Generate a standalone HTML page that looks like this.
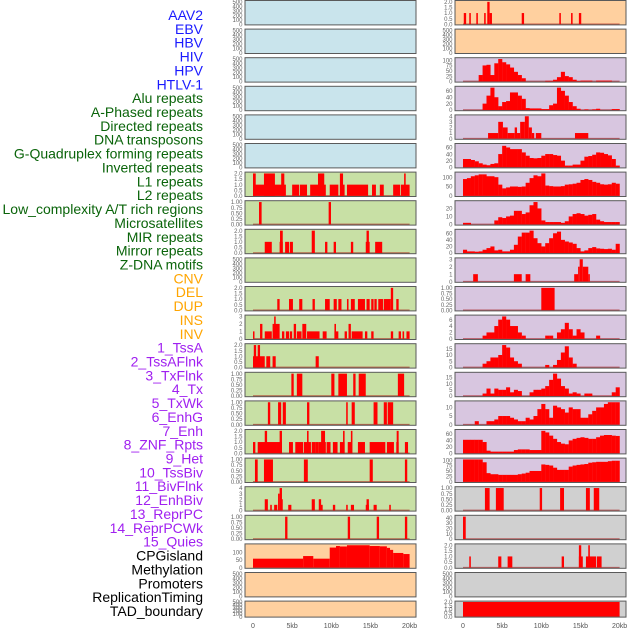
<!DOCTYPE html>
<html><head><meta charset="utf-8">
<style>
body{margin:0;background:#fff;width:630px;height:630px;overflow:hidden;font-family:"Liberation Sans",sans-serif;}
svg text{font-family:"Liberation Sans",sans-serif;}
</style></head>
<body>
<svg id="chart" width="630" height="630" viewBox="0 0 630 630" xmlns="http://www.w3.org/2000/svg"></svg>
<script>
const trackLabels=["AAV2","EBV","HBV","HIV","HPV","HTLV-1","Alu repeats","A-Phased repeats","Directed repeats","DNA transposons","G-Quadruplex forming repeats","Inverted repeats","L1 repeats","L2 repeats","Low_complexity A/T rich regions","Microsatellites","MIR repeats","Mirror repeats","Z-DNA motifs","CNV","DEL","DUP","INS","INV","1_TssA","2_TssAFlnk","3_TxFlnk","4_Tx","5_TxWk","6_EnhG","7_Enh","8_ZNF_Rpts","9_Het","10_TssBiv","11_BivFlnk","12_EnhBiv","13_ReprPC","14_ReprPCWk","15_Quies","CPGisland","Methylation","Promoters","ReplicationTiming","TAD_boundary"];
const labelGroups=[6,13,5,15,5];
const groupColors=["#1a1aff","#0a640a","#ffa500","#a020f0","#000000"];
const panelBg=["b","b","b","b","b","b","g","g","g","g","g","g","g","g","g","g","g","g","g","o","o","o",
"o","o","p","p","p","p","p","p","p","p","p","p","p","p","p","p","p","r","r","r","r","r"];
const bgColors={b:"#c9e4ec",g:"#c8e0a5",o:"#ffd09f",p:"#d8c6e0",r:"#d0d0d0"};
const E=[0,100,200,300,400,500], B2=["0.0","0.5","1.0","1.5","2.0"], B1=["0.00","0.25","0.50","0.75","1.00"];
const panelTicks=[E,E,E,E,E,E,B2,B1,B2,E,B2,[0,1,2,3],B2,B1,B1,B2,B1,[0,1,2,3,4],B1,[0,50,100],E,E,
B2,E,[0,25,50,75,100],[0,20,40,60],[0,1,2,3,4],[0,20,40,60],[0,50,100],[0,10,20],[0,20,40,60],[0,1,2,3],B1,[0,2,4,6],[0,5,10,15],[0,5,10,15],[0,5,10],[0,20,40,60],[0,25,50,75,100],B1,[0,10,20,30,40],B2,E,B2];
const panelMax=[500,500,500,500,500,500,2,1,2,500,2,3,2,1,1,2,1,4,1,145,500,500,
2,500,105,70,4,68,120,28,68,3,1,7,18,18,13,70,103,1,42,2,500,2];
const panelSegs=[[],[],[],[],[],[],
[[0,4.2,1],[0,0.35,2],[1.4,2.8,2],[3.6,4.0,2],[5.0,5.9,1],[6.0,6.9,1],[7.3,9.3,1],[8.3,9.1,2],[9.8,10.9,1],[11.1,11.7,1],[11.1,11.5,2],[12.0,14.7,1],[15.2,15.7,1],[16.2,16.7,1],[17.9,18.8,1],[18.9,20,1],[19.3,19.5,2]],
[[0.77,1.1,1],[9.66,9.96,1]],
[[1.5,2.4,1],[3.4,3.8,1],[3.45,3.8,2],[4.1,4.6,1],[4.7,5.1,1],[7.5,7.9,2],[9.2,9.5,1],[10.3,10.6,1],[12.5,12.8,1],[14.4,14.9,1],[14.5,14.8,2],[15.6,16.5,1]],
[],
[[3.1,3.4,1],[4.6,5.1,1],[5.9,6.3,1],[7.6,7.9,1],[9.2,9.8,1],[10.3,10.7,1],[10.9,11.3,1],[12.0,12.2,1],[12.5,13.0,1],[13.4,14.3,1],[14.5,14.9,1],[15.1,15.4,1],[15.5,15.8,1],[16.0,16.6,1],[16.7,17.6,1],[17.6,17.9,2],[18.3,18.6,1]],
[[0,0.1,1],[0.9,1.2,2],[1.5,2.4,1],[2.5,3.4,2],[2.7,2.9,3],[3.7,4.0,1],[4.2,4.6,1],[4.7,5.0,1],[5.2,5.5,2],[5.6,6.2,1],[6.3,6.8,2],[6.9,8.5,1],[8.9,9.4,1],[10.4,10.9,1],[10.4,10.6,2],[11.7,12.0,1],[12.2,12.5,2],[12.6,14.0,1],[14.3,14.6,1],[15.1,15.4,1],[17.6,17.9,1],[18.6,18.9,1],[19.1,19.3,1],[19.6,20,1]],
[[0,1.5,1],[0.1,0.4,2],[0.6,0.9,2],[1.7,2.2,1],[2.5,2.9,1],[8.0,8.4,1]],
[[4.9,5.2,1],[5.6,6.3,1],[10.0,10.4,1],[10.9,12.0,1],[12.8,13.1,1],[13.5,14.4,1],[18.5,19.3,1]],
[[1.9,2.2,1],[3.2,3.6,1],[3.8,4.2,1],[6.9,7.2,1],[11.9,12.1,1],[12.6,13.0,1],[15.4,15.9,1],[16.7,17.1,1],[17.2,17.9,1]],
[[0,0.3,1],[0.6,3.0,1],[1.5,1.8,2],[3.0,3.7,1],[3.4,3.7,2],[4.6,5.1,1],[5.4,6.4,1],[6.5,7.4,1],[6.9,7.1,2],[7.5,8.0,1],[8.0,8.4,1],[8.4,9.3,1],[8.7,9.2,2],[9.4,9.9,1],[10.2,10.8,1],[11.1,11.7,1],[11.5,11.7,2],[12.1,12.6,1],[12.5,12.7,2],[13.4,14.3,1],[14.9,16.9,1],[17.1,18.0,1],[18.3,18.6,1],[18.35,18.6,2],[19.4,19.8,1]],
[[0.25,0.6,1],[1.4,2.55,1],[6.5,7.0,1],[14.9,15.3,1],[19.4,19.7,1]],
[[1.5,1.9,2],[2.2,2.4,1],[2.7,3.1,1],[3.2,3.4,3],[3.4,3.7,4],[3.6,3.8,2],[4.5,4.9,1],[7.5,7.9,2],[8.4,8.7,2],[8.6,8.9,1],[10.2,10.5,1],[11.9,12.1,1],[12.5,12.9,1],[14.4,14.8,1],[14.5,14.8,2],[15.4,15.8,1],[17.4,17.6,1]],
[[4.1,4.4,1],[12.1,12.4,1],[15.8,16.1,1],[19.4,19.7,1]],
[[0,6.4,58],[6.4,7.7,75],[7.7,9.8,58],[9.8,10.6,130],[10.6,11.1,140],[11.1,12.0,137],[12.0,14.9,145],[14.9,16.2,140],[16.2,17.1,138],[17.1,17.5,128],[17.5,17.9,115],[17.9,19.2,95],[19.2,20,88]],
[],[],
[[0.1,0.4,1],[0.8,1.0,1],[1.7,1.9,1],[2.7,2.9,1],[3.1,3.4,2],[3.4,3.7,1],[7.5,7.8,1],[12.3,12.5,1],[13.8,14.0,1],[14.8,15.1,1]],
[],[],[],
[[3.2,4.5,1],[4.5,5.1,3],[5.1,5.7,2],[5.7,6.6,1],[6.6,6.9,2],[6.9,7.3,1],[7.3,7.9,3],[7.9,8.4,4],[8.4,8.8,2],[8.8,9.1,1],[9.3,10.0,1],[14.3,16.0,1]],
[],[],[],[],
[[1.3,1.9,1],[6.5,7.5,1],[8.0,8.6,1],[14.2,14.7,1],[14.7,14.9,2],[14.9,15.3,3],[15.3,16.0,2],[16.0,16.2,1]],
[[10.0,11.7,1]],
[],[],[],[],[],[],
[[2.8,3.4,1],[4.2,5.2,1],[9.8,10.1,1],[12.4,12.9,1],[15.7,16.2,1],[16.7,17.4,1]],
[[0,0.35,42]],
[[0.8,1.0,1],[4.5,4.9,1],[5.7,6.3,1],[12.6,12.9,1],[14.8,15.3,1],[14.8,15.1,2],[15.7,17.0,1],[16.0,16.2,2],[17.1,17.7,1]],
[],
[[0,20,2]]];
const binWidthKb=0.5;
const panelBins={
24:[0,0,0,0,30,75,78,30,85,105,90,80,65,45,30,15,0,0,0,0,0,3,3,8,20,45,25,20,8,2,4,4,4,0,4,4,4,4,0,0],
25:[0,0,0,0,0,20,45,70,40,12,25,28,55,55,45,35,6,5,5,5,3,3,15,20,70,60,45,25,12,4,0,2,0,2,4,0,0,0,3,3],
27:[25,25,22,18,12,8,6,10,12,40,65,60,55,55,55,45,35,28,27,28,35,40,40,37,35,20,5,5,8,8,20,32,34,38,45,44,40,36,25,5],
28:[90,95,105,110,115,115,105,105,100,60,40,45,50,50,48,50,70,95,110,105,120,55,52,50,50,52,60,62,65,70,85,90,85,75,70,62,60,62,70,65],
29:[2,2,0,0,0,0,0,0,5,9,8,10,11,17,17,13,15,24,28,20,5,3,3,3,3,2,4,10,13,14,13,11,12,13,6,4,3,3,3,3],
30:[10,5,5,4,5,10,15,20,8,10,5,5,10,25,50,62,62,68,45,30,20,30,45,60,65,40,35,32,28,15,5,8,15,18,14,13,12,13,10,28],
33:[0,0,0,0,0,1,2,2,4,6,7,6,4,4,2,1,0,0,0,0,0,1,1,0,2,3,5,3,1,3,2,0,0,0,1,0,0,0,0,0],
34:[0,0,0,0,0,3,5,8,8,10,18,16,8,5,3,0,0,0,0,0,0,2,0,2,6,12,17,8,3,0,0,0,0,0,0,0,0,0,0,0],
35:[0,0,0,0,0,2,6,2,6,5,5,7,3,5,4,0,0,3,5,5,6,8,13,18,14,8,6,2,3,2,0,2,2,0,0,0,0,0,3,7],
36:[0,0,0,2,0,0,2,2,3,5,5,5,4,3,2,2,4,3,5,9,12,9,4,11,10,9,7,10,9,9,4,4,6,8,10,10,12,13,13,13],
37:[42,42,42,42,42,35,8,5,5,5,5,5,5,10,12,12,12,10,10,10,70,65,55,45,35,30,28,40,45,48,50,48,45,45,50,55,57,57,55,54],
38:[103,103,103,103,103,90,40,35,35,32,32,32,32,32,35,38,42,50,50,50,80,78,75,65,55,55,55,70,75,78,80,82,88,90,92,92,92,95,97,97]
};
const xTickKb=[0,5,10,15,20];
const xTickLabels=["0","5kb","10kb","15kb","20kb"];

const NS="http://www.w3.org/2000/svg";
const svg=document.getElementById("chart");
function mk(tag,attrs,parent){const e=document.createElementNS(NS,tag);for(const k in attrs)e.setAttribute(k,attrs[k]);(parent||svg).appendChild(e);return e;}
const PITCH=28.6, PH=24.4, PW=171, KBPX=7.83;
function panelGeom(i){const col=i<22?0:1,row=i%22;const x=col?455:245;const y=row*PITCH+0.5;const h=row==21?16:PH;return {x,y,h,x0:x+8};}
function xScale(g,kb){return g.x0+kb*KBPX;}
function yScale(g,v,M){const lo=-0.03*M,hi=1.06*M;return g.y+g.h-(v-lo)/(hi-lo)*g.h;}

let li=0;
labelGroups.forEach((n,gi)=>{for(let k=0;k<n;k++){const t=mk("text",{x:203,y:15+li*13.86+5,"text-anchor":"end","font-size":"14",fill:groupColors[gi]});


t.textContent=trackLabels[li];li++;}});

for(let i=0;i<44;i++){
  const g=panelGeom(i), M=panelMax[i];
  const empty=panelSegs[i].length==0 && !panelBins[i];
  const grp=mk("g",{});
  
  
  mk("rect",{x:g.x,y:g.y,width:PW,height:g.h,fill:bgColors[panelBg[i]]},grp);
  const by=yScale(g,0,M);
  if(!empty){
    const bl=mk("line",{x1:xScale(g,0),x2:xScale(g,20),y1:by,y2:by,stroke:"rgba(160,0,0,0.55)","stroke-width":1.5},grp);
    
    
  }
  const drawBar=(s,e,v)=>{const x1=xScale(g,s),x2=xScale(g,e),yt=yScale(g,v,M);
    const r=mk("rect",{x:x1,y:yt,width:Math.max(1.5,x2-x1),height:Math.max(0,by-yt),fill:"#ff0000"},grp);
    
    };
  if(panelBins[i]){panelBins[i].forEach((v,b)=>{if(v>0)drawBar(b*binWidthKb,(b+1)*binWidthKb+0.02,v);});}
  panelSegs[i].forEach(s=>drawBar(s[0],s[1],s[2]));
  mk("rect",{x:g.x,y:g.y,width:PW,height:g.h,fill:"none",stroke:"#5a5a5a","stroke-width":1},grp);
  panelTicks[i].forEach(t=>{const v=parseFloat(t);const tx=mk("text",{x:g.x-2.5,y:yScale(g,v,M)+2.2,"text-anchor":"end","font-size":"6",fill:"#666"},grp);
    
    
    tx.textContent=String(t);});
}
[0,22].forEach(base=>{const g=panelGeom(base+21);xTickKb.forEach((k,j)=>{const t=mk("text",{x:xScale(g,k),y:628,"text-anchor":"middle","font-size":"7",fill:"#555"});
  
  
  t.textContent=xTickLabels[j];});});
</script>
</body></html>
